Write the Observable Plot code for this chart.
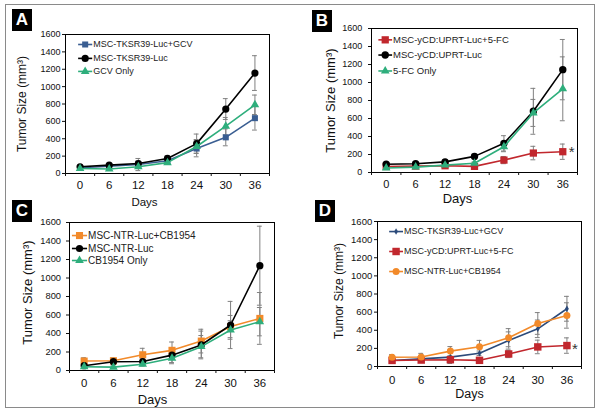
<!DOCTYPE html>
<html><head><meta charset="utf-8">
<script src="https://cdn.jsdelivr.net/npm/d3@7"></script>
<script src="https://cdn.jsdelivr.net/npm/@observablehq/plot@0.6"></script>
<style>
html,body{margin:0;padding:0;background:#fff;}
#fig{position:relative;width:600px;height:414px;font-family:"Liberation Sans",Arial,sans-serif;overflow:hidden;background:#fff;}
.outer{position:absolute;left:5px;top:4px;width:590px;height:404px;box-sizing:border-box;border:1.5px solid #8a8a8a;}
.tag{position:absolute;width:20px;height:22px;background:#000;color:#fff;font-weight:bold;font-size:17px;line-height:22px;text-align:center;}
.pnl{position:absolute;width:300px;height:207px;}
</style></head><body><div id="fig"><div class="outer"></div></div>
<script>
// ---- data ----
const days = [0, 6, 12, 18, 24, 30, 36];
const yTicks = [0, 200, 400, 600, 800, 1000, 1200, 1400, 1600];

// Panel A
const tkGcv    = [66, 84, 103, 146, 287, 416, 637];
const tkGcvErr = [15, 15, 70, 25, 95, 97, 137];
const tk       = [77, 96, 115, 173, 344, 742, 1156];
const tkErr    = [15, 20, 30, 30, 110, 120, 200];
const gcv      = [57, 52, 77, 125, 311, 545, 791];
const gcvErr   = [10, 10, 20, 20, 80, 100, 112];
// Panel B
const ycd5fc    = [67, 71, 75, 68, 138, 216, 231];
const ycd5fcErr = [15, 15, 15, 15, 40, 75, 85];
const ycd       = [92, 97, 118, 179, 324, 680, 1143];
const ycdErr    = [20, 20, 20, 25, 85, 255, 335];
const fc        = [50, 60, 82, 102, 286, 662, 930];
const fcErr     = [10, 10, 15, 15, 55, 150, 355];
// Panel C
const ntrCb    = [102, 105, 170, 218, 318, 475, 563];
const ntrCbErr = [36, 30, 70, 90, 128, 120, 280];
const ntr      = [52, 95, 97, 166, 276, 492, 1133];
const ntrErr   = [20, 25, 30, 80, 150, 255, 427];
const cb       = [40, 36, 68, 133, 258, 438, 528];
const cbErr    = [15, 15, 20, 60, 120, 100, 153];
// Panel D (orange error bars as shown there)
const ntrCbErrD = [30, 40, 50, 70, 100, 120, 140];

const blue = "#3a5e92", blueD = "#2b4a7a", green = "#2eae7c", red = "#c1272d", orange = "#f28a2a", black = "#000";
const errColor = "#808080";

const panels = [
  {tag:"A", left:0, top:0, m:[34,31,34,65],
   tagPos:[12,9],
   series:[
     {name:"MSC-TKSR39-Luc+GCV", v:tkGcv, e:tkGcvErr, color:blue, symbol:"square", r:3.4},
     {name:"MSC-TKSR39-Luc", v:tk, e:tkErr, color:black, symbol:"circle", r:3.6},
     {name:"GCV Only", v:gcv, e:gcvErr, color:green, symbol:"triangle", r:3.2}],
   legend:{x1:-0.4, x2:2.5, xt:2.7, y:[1485,1325,1175], font:9},
   yFont:9, yPad:2, xFont:11.5, xPad:7, daysFont:11.5, daysDx:-23, daysDy:32.5, ylabFont:12, ylabDx:-43, ylabDy:0},
  {tag:"B", left:300, top:0, m:[28,23,35,71],
   tagPos:[312,10],
   series:[
     {name:"MSC-yCD:UPRT-Luc+5-FC", v:ycd5fc, e:ycd5fcErr, color:red, symbol:"square", r:4.1, star:{dx:9, dy:0.6}},
     {name:"MSC-yCD:UPRT-Luc", v:ycd, e:ycdErr, color:black, symbol:"circle", r:3.7},
     {name:"5-FC Only", v:fc, e:fcErr, color:green, symbol:"triangle", r:3.2}],
   legend:{x1:-1.6, x2:1.2, xt:1.4, y:[1474,1305,1128], font:9.5},
   yFont:9, yPad:6.3, xFont:11, xPad:7.4, daysFont:13, daysDx:-17, daysDy:30, ylabFont:13, ylabDx:-41, ylabDy:0},
  {tag:"C", left:0, top:207, m:[15,26,44,69],
   tagPos:[12,200],
   series:[
     {name:"MSC-NTR-Luc+CB1954", v:ntrCb, e:ntrCbErr, color:orange, symbol:"square", r:4},
     {name:"MSC-NTR-Luc", v:ntr, e:ntrErr, color:black, symbol:"circle", r:3.6},
     {name:"CB1954 Only", v:cb, e:cbErr, color:green, symbol:"triangle", r:3.2}],
   legend:{x1:-2.5, x2:0.6, xt:0.8, y:[1459,1319,1189], font:10},
   yFont:9.3, yPad:5.5, xFont:11.4, xPad:8, daysFont:13, daysDx:-19.5, daysDy:33, ylabFont:13, ylabDx:-41.5, ylabDy:-4},
  {tag:"D", left:300, top:207, m:[14,19,48,77],
   tagPos:[315,200],
   series:[
     {name:"MSC-TKSR39-Luc+GCV", v:tkGcv, e:tkGcvErr, color:blueD, symbol:"diamond", r:2},
     {name:"MSC-yCD:UPRT-Luc+5-FC", v:ycd5fc, e:ycd5fcErr, color:red, symbol:"square", r:4.2, star:{dx:8, dy:3.6}},
     {name:"MSC-NTR-Luc+CB1954", v:ntrCb, e:ntrCbErrD, color:orange, symbol:"circle", r:3.5}],
   legend:{x1:-0.6, x2:2.25, xt:2.45, y:[1489,1269,1048], font:9},
   yFont:9.5, yPad:2.3, xFont:11.4, xPad:9.8, daysFont:12.5, daysDx:-10, daysDy:31.7, ylabFont:12, ylabDx:-38.5, ylabDy:-3}
];

const boundaries = [-3, 3, 9, 15, 21, 27, 33, 39];
const fig = document.getElementById("fig");

for (const p of panels) {
  const marks = [];
  marks.push(Plot.frame({stroke: "#000", strokeWidth: 1}));
  marks.push(Plot.axisY({ticks: yTicks, tickSize: 3, tickPadding: p.yPad, fontSize: p.yFont, label: null, tickFormat: d => String(d)}));
  marks.push(Plot.axisX({ticks: days, tickSize: 0, tickPadding: p.xPad, fontSize: p.xFont, label: null, tickFormat: d => String(d)}));
  marks.push(Plot.axisX({ticks: boundaries, tickSize: 3, tickFormat: () => "", label: null}));
  const rowsList = p.series.map(s => days.map((d, i) => ({day: d, v: s.v[i], e: s.e[i]})));
  // error bars
  rowsList.forEach(rows => {
    marks.push(Plot.ruleX(rows, {x: "day", y1: d => d.v - d.e, y2: d => d.v + d.e, stroke: errColor, strokeWidth: 1}));
    const caps = rows.flatMap(d => [{day: d.day, y: d.v - d.e}, {day: d.day, y: d.v + d.e}]);
    marks.push(Plot.ruleY(caps, {y: "y", x1: d => d.day - 0.5, x2: d => d.day + 0.5, stroke: errColor, strokeWidth: 1}));
  });
  // lines + markers
  p.series.forEach((s, k) => {
    const rows = rowsList[k];
    marks.push(Plot.line(rows, {x: "day", y: "v", stroke: s.color, strokeWidth: 1.6}));
    marks.push(Plot.dot(rows, {x: "day", y: "v", symbol: () => s.symbol, r: s.r, fill: s.color, stroke: "none"}));
    if (s.star) {
      marks.push(Plot.text(rows.slice(-1), {x: "day", y: "v", text: () => "*", dx: s.star.dx, dy: s.star.dy, fontSize: 15, fill: "#333"}));
    }
  });
  // legend
  p.series.forEach((s, k) => {
    const ly = p.legend.y[k];
    marks.push(Plot.link([s], {x1: () => p.legend.x1, x2: () => p.legend.x2, y1: () => ly, y2: () => ly, stroke: s.color, strokeWidth: 1.6}));
    marks.push(Plot.dot([s], {x: () => (p.legend.x1 + p.legend.x2) / 2, y: () => ly, symbol: () => s.symbol, r: s.r, fill: s.color, stroke: "none"}));
    marks.push(Plot.text([s], {x: () => p.legend.xt, y: () => ly, text: d => d.name, textAnchor: "start", fontSize: p.legend.font, fill: "#222"}));
  });
  // axis titles
  marks.push(Plot.text(["Days"], {text: d => d, frameAnchor: "bottom", textAnchor: "middle", lineAnchor: "bottom", dx: p.daysDx, dy: p.daysDy, fontSize: p.daysFont, fill: "#111"}));
  marks.push(Plot.text(["Tumor Size (mm³)"], {text: d => d, frameAnchor: "left", textAnchor: "middle", lineAnchor: "middle", rotate: -90, dx: p.ylabDx, dy: p.ylabDy, fontSize: p.ylabFont, fill: "#111"}));

  const chart = Plot.plot({
    width: 300, height: 207,
    marginTop: p.m[0], marginRight: p.m[1], marginBottom: p.m[2], marginLeft: p.m[3],
    x: {domain: [-3, 39]},
    y: {domain: [0, 1600]},
    style: {fontFamily: '"Liberation Sans", Arial, sans-serif', overflow: "visible", background: "transparent", color: "#111"},
    marks
  });
  const div = document.createElement("div");
  div.className = "pnl";
  div.style.left = p.left + "px";
  div.style.top = p.top + "px";
  div.appendChild(chart);
  fig.appendChild(div);
  const t = document.createElement("div");
  t.className = "tag";
  t.textContent = p.tag;
  t.style.left = p.tagPos[0] + "px";
  t.style.top = p.tagPos[1] + "px";
  fig.appendChild(t);
}
</script></body></html>
